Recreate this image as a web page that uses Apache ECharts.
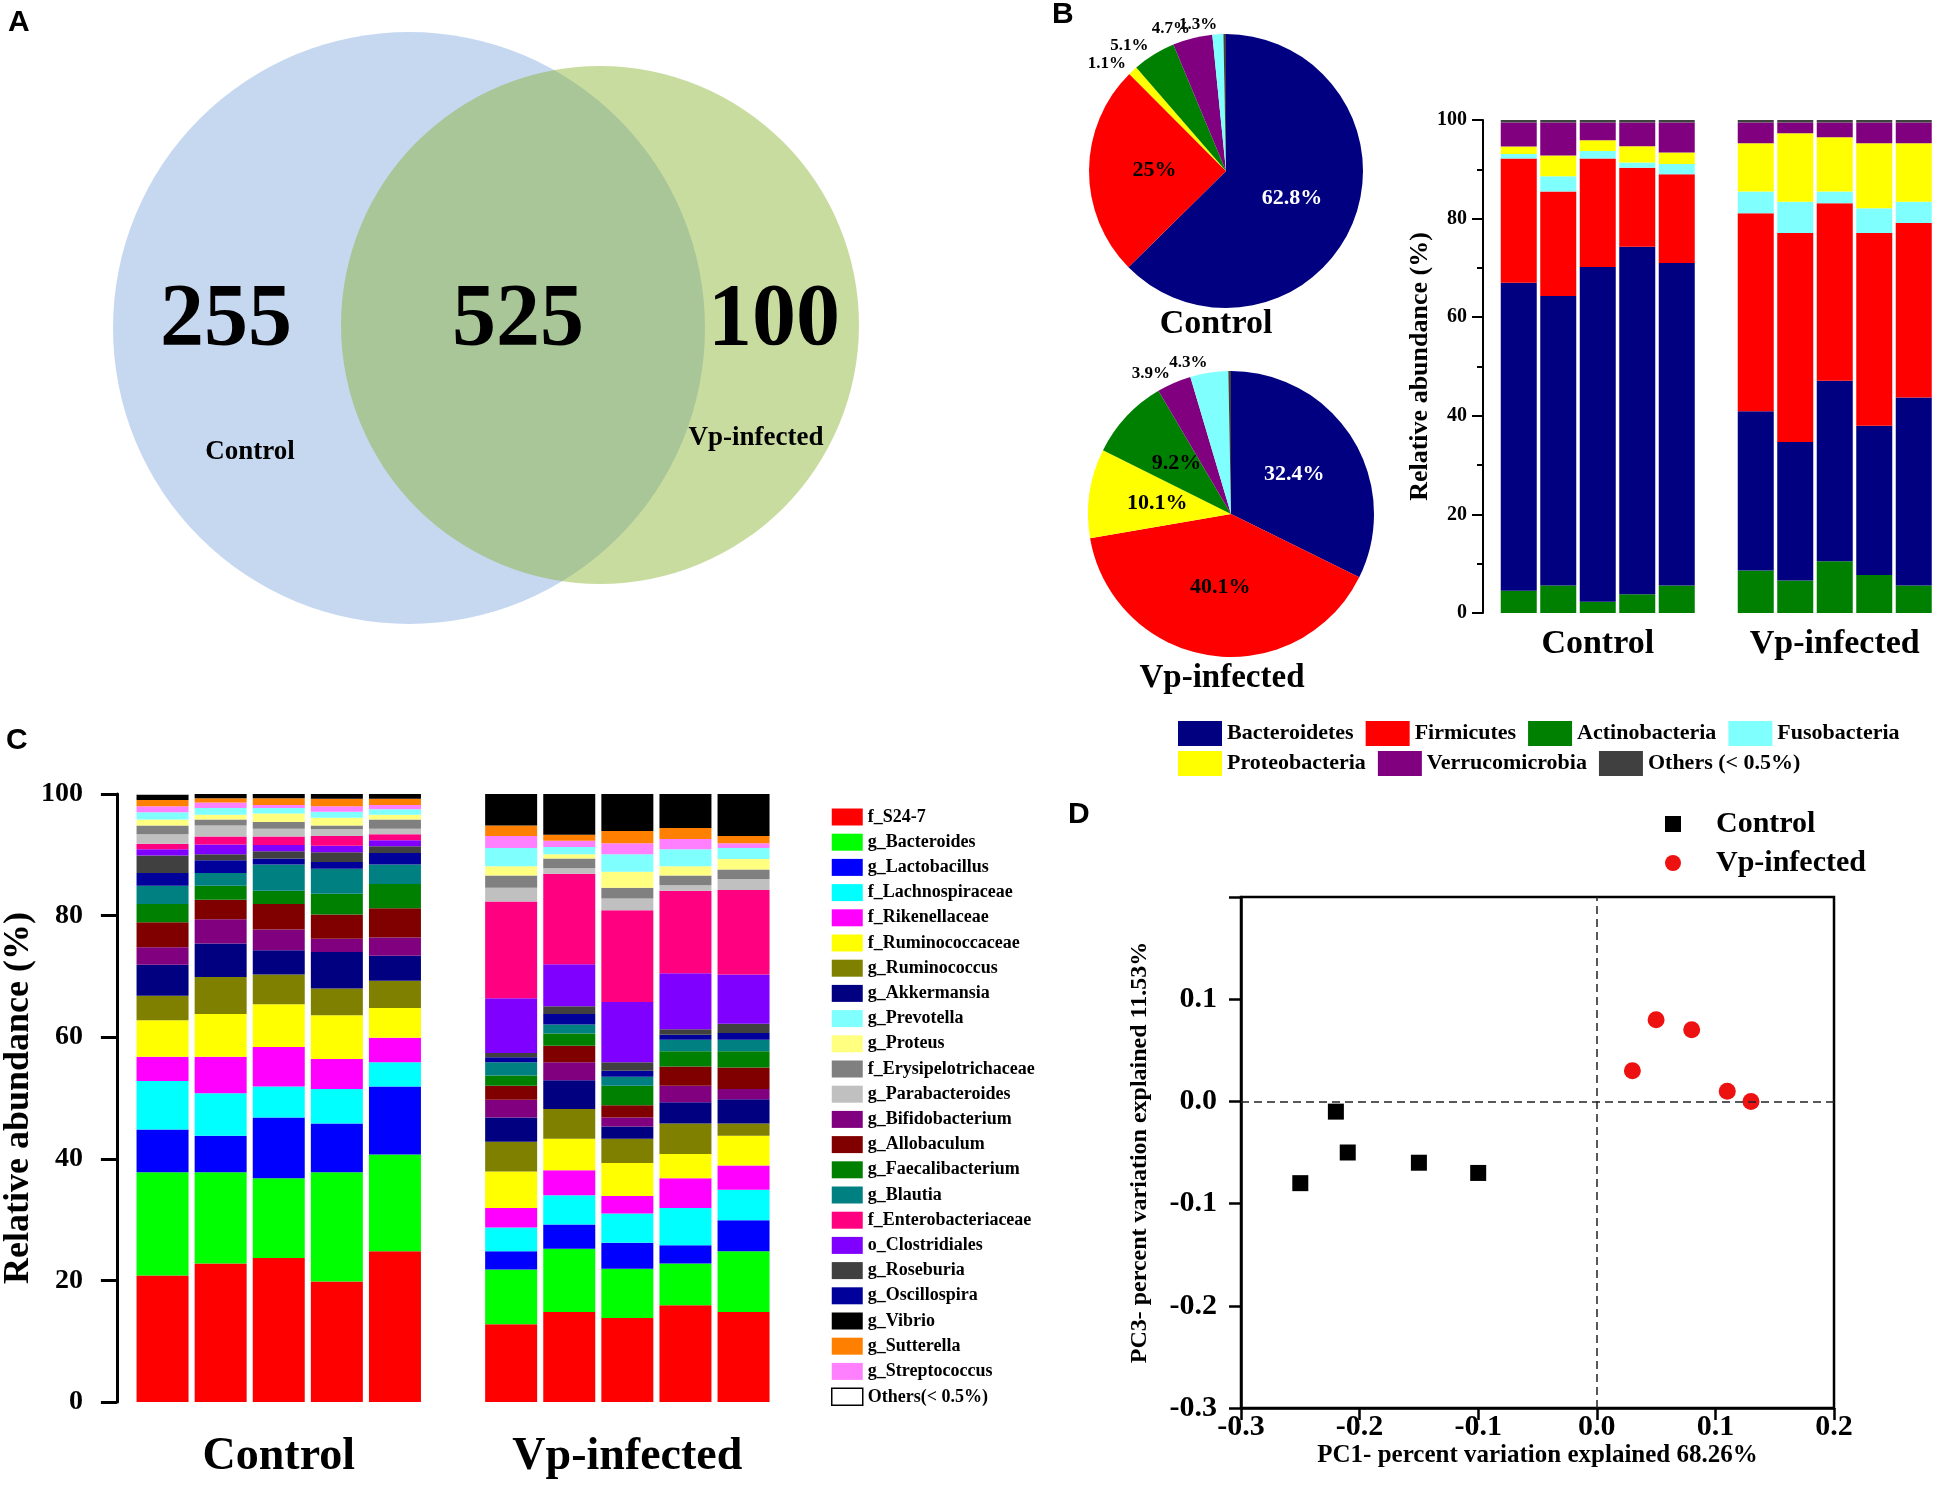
<!DOCTYPE html>
<html><head><meta charset="utf-8">
<script src="https://cdn.jsdelivr.net/npm/echarts@6/dist/echarts.min.js"></script>
<style>html,body{margin:0;padding:0;background:#fff}#c{width:1950px;height:1485px}</style>
</head><body><div id="c"></div>
<script>
// ---------------- DATA ----------------
// Panel A (Venn)
const vennSetNames = ['Control', 'Vp-infected'];
const vennCounts = [255, 525, 100];

// Panel B pies (clockwise from 12 o'clock)
const pieNames = ['Bacteroidetes','Firmicutes','Proteobacteria','Actinobacteria','Verrucomicrobia','Fusobacteria','Others (< 0.5%)'];
const pieCtrl = [62.8, 25, 1.1, 5.1, 4.7, 1.3, 0.3];
const pieVp   = [32.4, 40.1, 10.1, 9.2, 3.9, 4.3, 0.3];

// Panel B stacked bars (bottom -> top)
const phylaB = ['Actinobacteria','Bacteroidetes','Firmicutes','Fusobacteria','Proteobacteria','Verrucomicrobia','Others (< 0.5%)'];
const ctrlB = [
  [4.5, 5.6, 2.3, 3.8, 5.6],
  [62.5, 58.7, 67.9, 70.5, 65.4],
  [25.2, 21.2, 22.0, 16.0, 18.0],
  [0.9, 3.1, 1.5, 1.1, 2.1],
  [1.5, 4.2, 2.2, 3.3, 2.3],
  [4.9, 6.7, 3.6, 4.8, 6.1],
  [0.5, 0.5, 0.5, 0.5, 0.5]
];
const vpB = [
  [8.6, 6.6, 10.5, 7.7, 5.6],
  [32.3, 28.1, 36.6, 30.3, 38.1],
  [40.2, 42.4, 36.0, 39.1, 35.4],
  [4.4, 6.3, 2.4, 5.0, 4.3],
  [9.8, 13.9, 11.0, 13.2, 11.9],
  [4.2, 2.2, 3.0, 4.2, 4.2],
  [0.5, 0.5, 0.5, 0.5, 0.5]
];
const legendB1 = ['Bacteroidetes','Firmicutes','Actinobacteria','Fusobacteria'];
const legendB2 = ['Proteobacteria','Verrucomicrobia','Others (< 0.5%)'];

// Panel C stacked bars (stack order bottom -> top)
const taxaC = ['f_S24-7','g_Bacteroides','g_Lactobacillus','f_Lachnospiraceae','f_Rikenellaceae','f_Ruminococcaceae',
  'g_Ruminococcus','g_Akkermansia','g_Bifidobacterium','g_Allobaculum','g_Faecalibacterium','g_Blautia',
  'g_Oscillospira','g_Roseburia','o_Clostridiales','f_Enterobacteriaceae','g_Parabacteroides','f_Erysipelotrichaceae',
  'g_Proteus','g_Prevotella','g_Streptococcus','g_Sutterella','g_Vibrio','Others(< 0.5%)'];
const ctrlC1 = [20.8,17.0,7.0,8.0,4.0,6.0,4.0,5.1,2.9,4.1,3.0,3.0,2.1,2.9,1.0,0.9,1.6,1.4,1.0,1.2,1.0,1.0,0.9,0.1];
const ctrlC2 = [22.8,15.0,6.0,7.0,6.0,7.0,6.1,5.5,4.0,3.2,2.3,2.1,2.1,1.0,1.6,1.3,1.8,1.0,0.8,1.1,0.9,0.7,0.7,0.1];
const ctrlC3 = [23.7,13.1,10.0,5.1,6.5,7.0,4.9,4.0,3.4,4.2,2.2,4.3,1.0,1.2,1.0,1.4,1.3,1.1,1.4,0.9,0.5,1.1,0.7,0.1];
const ctrlC4 = [19.8,18.0,8.0,5.7,4.9,7.2,4.4,6.0,2.2,4.0,3.4,4.1,1.1,1.6,1.1,1.6,1.1,0.6,1.3,1.0,0.9,1.2,0.8,0.1];
const ctrlC5 = [24.8,15.9,11.2,4.0,4.0,4.9,4.5,4.1,3.0,4.8,4.0,3.2,1.9,1.1,1.0,1.0,0.9,1.5,0.8,0.9,0.7,1.0,0.8,0.1];
const vpC1 = [12.8,9.0,3.0,3.9,3.2,6.0,4.9,4.0,2.9,2.3,1.7,2.2,0.8,0.7,9.0,15.9,2.3,2.0,1.5,3.0,2.0,1.7,5.2,0.1];
const vpC2 = [14.8,10.4,4.0,4.8,4.1,5.2,4.9,4.7,3.0,2.7,2.0,1.5,1.7,1.3,6.9,14.9,0.9,1.6,0.7,1.2,1.0,1.0,6.7,0.1];
const vpC3 = [13.8,8.1,4.3,4.8,2.9,5.4,4.0,2.0,1.5,2.0,3.2,1.5,1.0,1.4,9.9,15.1,1.9,1.8,2.6,2.9,1.8,2.0,6.1,0.1];
const vpC4 = [15.9,6.9,3.0,6.1,4.9,4.0,5.0,3.5,2.7,3.2,2.5,1.9,0.8,0.9,9.2,13.6,0.9,1.6,1.5,2.8,1.7,1.8,5.6,0.1];
const vpC5 = [14.8,10.0,5.1,5.0,4.0,4.9,2.0,4.0,1.7,3.5,2.7,1.9,1.1,1.5,8.1,13.9,1.8,1.6,1.7,1.8,0.8,1.2,6.9,0.1];
const legendC = ['f_S24-7','g_Bacteroides','g_Lactobacillus','f_Lachnospiraceae','f_Rikenellaceae','f_Ruminococcaceae',
  'g_Ruminococcus','g_Akkermansia','g_Prevotella','g_Proteus','f_Erysipelotrichaceae','g_Parabacteroides',
  'g_Bifidobacterium','g_Allobaculum','g_Faecalibacterium','g_Blautia','f_Enterobacteriaceae','o_Clostridiales',
  'g_Roseburia','g_Oscillospira','g_Vibrio','g_Sutterella','g_Streptococcus','Others(< 0.5%)'];

// Categories for stacked bars (5 control, gap, 5 infected)
const sampleCats = ['C1','C2','C3','C4','C5','','V1','V2','V3','V4','V5'];
const groupNames = ['Control','Vp-infected'];

// Panel D PCoA
const pcCtrl = [[-0.25,-0.08],[-0.22,-0.01],[-0.21,-0.05],[-0.15,-0.06],[-0.10,-0.07]];
const pcVp   = [[0.03,0.03],[0.05,0.08],[0.08,0.07],[0.11,0.01],[0.13,0.0]];

// ---------------- STYLE ----------------
const SERIF = "'Liberation Serif','Times New Roman',serif";
const SANS = "'Liberation Sans',Arial,sans-serif";
const colorB = {
  'Bacteroidetes':'#000080','Firmicutes':'#ff0000','Actinobacteria':'#008000','Fusobacteria':'#80ffff',
  'Proteobacteria':'#ffff00','Verrucomicrobia':'#800080','Others (< 0.5%)':'#404040'
};
const colorC = ['#ff0000','#00ff00','#0000ff','#00ffff','#ff00ff','#ffff00','#808000','#000080','#800080','#800000',
  '#008000','#008080','#00009a','#404040','#8000ff','#ff0080','#c0c0c0','#808080','#ffff80','#80ffff','#ff80ff',
  '#ff8000','#000000','#ffffff'];

const chart = echarts.init(document.getElementById('c'), null, {renderer:'canvas'});

function gap(a, b){ return a.concat(['-'], b); }
function groupLabel(v, i){ return i === 2 ? groupNames[0] : (i === 8 ? groupNames[1] : ''); }
function pcFmt(v){ if (Math.abs(v) < 1e-9) return '0.0'; return v.toFixed(1); }

function pieData(vals){
  return pieNames.map((n, i) => {
    const v = vals[i];
    const small = v < 6;
    return {
      name: n, value: v,
      itemStyle: {color: colorB[n]},
      label: {
        show: n !== 'Others (< 0.5%)',
        position: small ? 'outside' : 'inside',
        fontSize: small ? 17 : 22,
        color: n === 'Bacteroidetes' ? '#fff' : '#000'
      }
    };
  });
}
function pieSeries(name, vals, center, r){
  return {
    type:'pie', name: name, center: center, radius:[0, r], startAngle: 90, clockwise: true,
    avoidLabelOverlap: false, silent: true,
    labelLayout: {hideOverlap: false},
    label: {formatter: p => p.value + '%', fontFamily: SERIF, fontWeight:'bold', textBorderWidth:0, distanceToLabelLine:0},
    labelLine: {show:false, length:10, length2:0},
    data: pieData(vals)
  };
}

const seriesB = phylaB.map((n, i) => ({
  type:'bar', name:n, xAxisIndex:0, yAxisIndex:0, stack:'b', barWidth:36,
  itemStyle:{color: colorB[n]}, data: gap(ctrlB[i], vpB[i])
}));

const ctrlCs = [ctrlC1, ctrlC2, ctrlC3, ctrlC4, ctrlC5];
const vpCs = [vpC1, vpC2, vpC3, vpC4, vpC5];
const seriesC = taxaC.map((n, i) => ({
  type:'bar', name:n, xAxisIndex:1, yAxisIndex:1, stack:'c', barWidth:52,
  itemStyle:{color: colorC[i]},
  data: gap(ctrlCs.map(s => s[i]), vpCs.map(s => s[i]))
}));

const boldSerif = (size) => ({fontFamily:SERIF, fontWeight:'bold', fontSize:size, color:'#000'});
const vennLabel = (size) => ({show:true, position:'inside', formatter:p => p.name, fontFamily:SERIF,
  fontWeight:'bold', fontSize:size, color:'#000', textBorderWidth:0, textShadowBlur:0});

const option = {
  animation:false,
  backgroundColor:'#fff',
  grid:[
    {left:1499, width:434.5, top:120, height:493},
    {left:132.6, width:640, top:794, height:608},
    {left:1241, right:116, top:897, bottom:77, show:true, borderColor:'#000', borderWidth:2.5},
    {left:0, top:0, width:900, height:660}
  ],
  xAxis:[
    {type:'category', gridIndex:0, data:sampleCats, axisLine:{show:false}, axisTick:{show:false},
     axisLabel:Object.assign({interval:0, formatter:groupLabel, margin:14}, boldSerif(34))},
    {type:'category', gridIndex:1, data:sampleCats, axisLine:{show:false}, axisTick:{show:false},
     axisLabel:Object.assign({interval:0, formatter:groupLabel, margin:32}, boldSerif(46))},
    {type:'value', gridIndex:2, min:-0.3, max:0.2, interval:0.1, splitLine:{show:false},
     axisLine:{onZero:false, lineStyle:{color:'#000', width:2.5}},
     axisTick:{length:12, lineStyle:{color:'#000', width:2.5}},
     axisLabel:Object.assign({formatter:pcFmt, margin:4}, boldSerif(30)),
     name:'PC1- percent variation explained 68.26%', nameLocation:'middle', nameGap:30,
     nameTextStyle:boldSerif(25)},
    {type:'value', gridIndex:3, min:0, max:900, show:false}
  ],
  yAxis:[
    {type:'value', gridIndex:0, min:0, max:100, interval:20, offset:16, splitLine:{show:false},
     axisLine:{show:true, lineStyle:{color:'#000', width:2}},
     axisTick:{show:true, length:11, lineStyle:{color:'#000', width:2}},
     minorTick:{show:true, splitNumber:2, length:6, lineStyle:{color:'#000', width:2}},
     axisLabel:Object.assign({margin:16}, boldSerif(20)),
     name:'Relative abundance (%)', nameLocation:'middle', nameGap:42, nameTextStyle:boldSerif(26)},
    {type:'value', gridIndex:1, min:0, max:100, interval:20, offset:16.6, splitLine:{show:false},
     axisLine:{show:true, lineStyle:{color:'#000', width:3}},
     axisTick:{show:true, length:16, lineStyle:{color:'#000', width:3}},
     axisLabel:Object.assign({margin:34}, boldSerif(28)),
     name:'Relative abundance (%)', nameLocation:'middle', nameGap:67, nameTextStyle:boldSerif(36)},
    {type:'value', gridIndex:2, min:-0.3, max:0.2, interval:0.1, splitLine:{show:false},
     axisLine:{onZero:false, lineStyle:{color:'#000', width:2.5}},
     axisTick:{length:12, lineStyle:{color:'#000', width:2.5}},
     axisLabel:Object.assign({formatter:v => (v > 0.15 ? '' : pcFmt(v)), margin:24}, boldSerif(30)),
     name:'PC3- percent variation explained 11.53%', nameLocation:'middle', nameGap:89,
     nameTextStyle:boldSerif(24)},
    {type:'value', gridIndex:3, min:0, max:660, inverse:true, show:false}
  ],
  legend:[
    {data:legendB1, left:1173, top:716, orient:'horizontal', icon:'rect', itemWidth:44, itemHeight:25, itemGap:12,
     selectedMode:false, textStyle:boldSerif(22)},
    {data:legendB2, left:1173, top:746, orient:'horizontal', icon:'rect', itemWidth:44, itemHeight:25, itemGap:12,
     selectedMode:false, textStyle:boldSerif(22)},
    {data:legendC.map(n => n === 'Others(< 0.5%)'
        ? {name:n, itemStyle:{color:'#fff', borderColor:'#000', borderWidth:1.5}} : {name:n}),
     left:826, top:803, orient:'vertical', icon:'rect', itemWidth:31, itemHeight:17, itemGap:7.2,
     selectedMode:false, textStyle:Object.assign({lineHeight:18}, boldSerif(18))},
    {data:[{name:'Control', icon:'rect'}, {name:'Vp-infected', icon:'circle'}],
     left:1660, top:804, orient:'vertical', itemWidth:16, itemHeight:16, itemGap:9, selectedMode:false,
     textStyle:Object.assign({lineHeight:30, padding:[0,0,0,30]}, boldSerif(30))}
  ],
  graphic:[
    {type:'text', x:8, y:8, style:{text:'A', font:'bold 30px ' + SANS, fill:'#000'}},
    {type:'text', x:1052, y:0, style:{text:'B', font:'bold 30px ' + SANS, fill:'#000'}},
    {type:'text', x:6, y:726, style:{text:'C', font:'bold 30px ' + SANS, fill:'#000'}},
    {type:'text', x:1068, y:800, style:{text:'D', font:'bold 30px ' + SANS, fill:'#000'}},
    {type:'text', x:1216, y:324, style:{text:groupNames[0], font:'bold 34px ' + SERIF, fill:'#000',
      textAlign:'center', textVerticalAlign:'middle', align:'center', verticalAlign:'middle'}},
    {type:'text', x:1222, y:678, style:{text:groupNames[1], font:'bold 33px ' + SERIF, fill:'#000',
      textAlign:'center', textVerticalAlign:'middle', align:'center', verticalAlign:'middle'}}
  ],
  series:[
    // Panel A: Venn circles
    {type:'scatter', name:'vennSets', xAxisIndex:3, yAxisIndex:3, silent:true, z:1,
     data:[
       {name:vennSetNames[0], value:[409,328], symbolSize:592, itemStyle:{color:'#c6d8f0', opacity:1}},
       {name:vennSetNames[1], value:[600,325], symbolSize:518, itemStyle:{color:'rgb(130,174,35)', opacity:0.43}}
     ]},
    {type:'scatter', name:'vennCounts', xAxisIndex:3, yAxisIndex:3, silent:true, z:5, symbolSize:0,
     itemStyle:{color:'#000', opacity:1}, label:vennLabel(88),
     data:[
       {name:String(vennCounts[0]), value:[226,321]},
       {name:String(vennCounts[1]), value:[518,321]},
       {name:String(vennCounts[2]), value:[774,321]}
     ]},
    {type:'scatter', name:'vennNames', xAxisIndex:3, yAxisIndex:3, silent:true, z:5, symbolSize:0,
     itemStyle:{color:'#000', opacity:1}, label:vennLabel(27),
     data:[
       {name:vennSetNames[0], value:[250,452]},
       {name:vennSetNames[1], value:[756,438]}
     ]},
    // Panel B pies
    pieSeries('pieControl', pieCtrl, [1226,171], 137),
    pieSeries('pieVp', pieVp, [1231,514], 143),
    // Panel B and C bars
    ...seriesB,
    ...seriesC,
    // Panel D
    {type:'scatter', name:'Control', xAxisIndex:2, yAxisIndex:2, symbol:'rect', symbolSize:16,
     itemStyle:{color:'#000', opacity:1}, data:pcCtrl,
     markLine:{silent:true, symbol:['none','none'], label:{show:false},
       lineStyle:{type:[8,5], color:'#222', width:1.5},
       data:[{xAxis:0}, {yAxis:0}]}},
    {type:'scatter', name:'Vp-infected', xAxisIndex:2, yAxisIndex:2, symbol:'circle', symbolSize:17,
     itemStyle:{color:'#ee1111', opacity:1}, data:pcVp}
  ]
};
chart.setOption(option);
</script></body></html>
